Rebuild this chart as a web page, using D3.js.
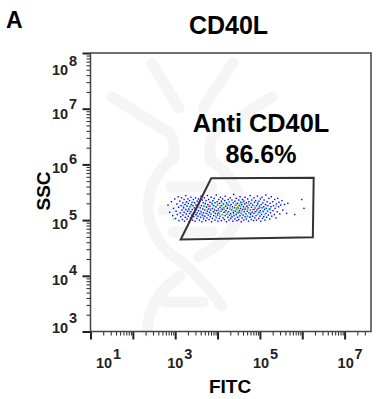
<!DOCTYPE html>
<html>
<head>
<meta charset="utf-8">
<script src="https://cdn.jsdelivr.net/npm/d3@7"></script>
<style>
  html, body { margin: 0; background: #fff; }
  svg { display: block; }
  text { font-family: "Liberation Sans", Arial, sans-serif; font-weight: bold; }
</style>
</head>
<body>
<div id="chart"></div>
<script>
// decades on each axis
const xDecades = [1, 2, 3, 4, 5, 6, 7];
const yDecades = [3, 4, 5, 6, 7, 8];
const xLabelled = [1, 3, 5, 7];
const yLabelled = [3, 4, 5, 6, 7, 8];

const panelLetter = "A";
const chartTitle = "CD40L";
const xTitle = "FITC";
const yTitle = "SSC";
const gateName = "Anti CD40L";
const gatePercent = "86.6%";

// gate corners, log10 of FITC / SSC
const gate = [[3.85, 5.75], [6.27, 5.76], [6.25, 4.69], [3.13, 4.65]];

// events, [log10 FITC, log10 SSC], by density colour
const bluePoints = [
  [2.83,5.27],[2.87,5.14],[2.91,5.33],[2.94,5.08],[2.96,5.21],[2.99,5.38],[3.01,5.03],[3.02,5.16],[3.04,5.29],[3.05,5.1],
  [3.07,5.42],[3.08,5.23],[3.09,4.99],[3.11,5.34],[3.12,5.13],[3.13,5.06],[3.14,5.26],[3.15,5.4],[3.16,5.18],[3.17,5.01],
  [3.18,5.31],[3.18,5.09],[3.2,5.22],[3.21,5.37],[3.21,5.14],[3.22,4.98],[3.23,5.28],[3.24,5.05],[3.25,5.44],[3.25,5.19],
  [3.26,5.11],[3.27,5.33],[3.28,5.02],[3.28,5.25],[3.29,5.16],[3.3,5.38],[3.31,5.07],[3.31,5.3],[3.32,5.2],[3.33,4.97],
  [3.34,5.12],[3.34,5.35],[3.35,5.24],[3.36,5.04],[3.37,5.41],[3.37,5.15],[3.38,5.28],[3.39,5.09],[3.4,5.32],[3.4,5.19],
  [3.41,5.0],[3.42,5.26],[3.43,5.12],[3.43,5.37],[3.44,5.06],[3.45,5.22],[3.46,5.31],[3.46,5.15],[3.47,4.98],[3.48,5.4],
  [3.49,5.1],[3.49,5.27],[3.5,5.19],[3.51,5.03],[3.52,5.34],[3.52,5.13],[3.53,5.24],[3.54,5.07],[3.55,5.38],[3.55,5.17],
  [3.56,5.29],[3.57,5.0],[3.58,5.11],[3.58,5.33],[3.59,5.22],[3.6,5.05],[3.61,5.43],[3.61,5.15],[3.62,5.26],[3.63,4.97],
  [3.64,5.09],[3.64,5.36],[3.65,5.2],[3.66,5.31],[3.67,5.02],[3.67,5.13],[3.68,5.25],[3.69,5.4],[3.7,5.07],[3.7,5.18],
  [3.71,5.3],[3.72,4.99],[3.73,5.12],[3.73,5.35],[3.74,5.23],[3.75,5.04],[3.76,5.16],[3.76,5.44],[3.77,5.28],[3.78,5.09],
  [3.79,5.2],[3.79,5.37],[3.8,5.01],[3.81,5.14],[3.82,5.32],[3.82,5.25],[3.83,5.06],[3.84,5.18],[3.85,5.41],[3.85,5.11],
  [3.86,4.97],[3.87,5.29],[3.88,5.21],[3.88,5.03],[3.89,5.35],[3.9,5.15],[3.91,5.26],[3.91,5.08],[3.92,5.39],[3.93,5.19],
  [3.94,5.0],[3.94,5.31],[3.95,5.12],[3.96,5.24],[3.97,5.05],[3.97,5.45],[3.98,5.17],[3.99,5.33],[4.0,5.09],[4.0,5.27],
  [4.01,4.98],[4.02,5.2],[4.03,5.37],[4.03,5.13],[4.04,5.03],[4.05,5.3],[4.06,5.23],[4.06,5.07],[4.07,5.41],[4.08,5.16],
  [4.09,4.99],[4.09,5.34],[4.1,5.26],[4.11,5.1],[4.12,5.19],[4.12,5.38],[4.13,5.04],[4.14,5.29],[4.15,5.14],[4.15,5.22],
  [4.16,5.01],[4.17,5.35],[4.18,5.08],[4.18,5.43],[4.19,5.25],[4.2,5.17],[4.21,4.97],[4.21,5.31],[4.22,5.11],[4.23,5.21],
  [4.24,5.05],[4.25,5.37],[4.25,5.27],[4.26,5.15],[4.27,5.0],[4.28,5.33],[4.28,5.09],[4.29,5.2],[4.3,5.4],[4.31,5.12],
  [4.31,5.03],[4.32,5.28],[4.33,5.18],[4.34,5.36],[4.34,5.06],[4.35,5.24],[4.36,4.98],[4.37,5.14],[4.37,5.31],[4.38,5.46],
  [4.39,5.08],[4.4,5.22],[4.41,5.02],[4.41,5.34],[4.42,5.16],[4.43,5.27],[4.44,5.1],[4.44,5.39],[4.45,5.19],[4.46,4.99],
  [4.47,5.3],[4.47,5.05],[4.48,5.23],[4.49,5.13],[4.5,5.36],[4.5,5.01],[4.51,5.26],[4.52,5.17],[4.53,5.42],[4.53,5.08],
  [4.54,5.21],[4.55,5.32],[4.56,4.97],[4.56,5.12],[4.57,5.28],[4.58,5.04],[4.59,5.37],[4.59,5.19],[4.6,5.09],[4.61,5.24],
  [4.62,5.0],[4.62,5.34],[4.63,5.15],[4.64,5.29],[4.65,5.06],[4.65,5.41],[4.66,5.2],[4.67,5.11],[4.68,5.31],[4.68,5.02],
  [4.69,5.25],[4.7,5.16],[4.71,5.38],[4.71,5.07],[4.72,5.22],[4.73,4.98],[4.74,5.33],[4.74,5.13],[4.75,5.27],[4.76,5.05],
  [4.77,5.44],[4.77,5.18],[4.78,5.1],[4.79,5.3],[4.8,5.01],[4.8,5.23],[4.81,5.36],[4.82,5.14],[4.83,5.07],[4.83,5.27],
  [4.84,5.19],[4.85,4.99],[4.86,5.4],[4.86,5.12],[4.87,5.32],[4.88,5.04],[4.89,5.22],[4.89,5.15],[4.9,5.35],[4.91,5.08],
  [4.92,5.26],[4.92,5.0],[4.93,5.18],[4.94,5.43],[4.95,5.11],[4.95,5.3],[4.96,5.21],[4.97,5.03],[4.98,5.34],[4.98,5.14],
  [4.99,5.25],[5.0,5.07],[5.01,5.38],[5.01,5.17],[5.02,4.98],[5.03,5.28],[5.04,5.1],[5.05,5.22],[5.05,5.41],[5.06,5.03],
  [5.07,5.31],[5.08,5.15],[5.09,5.24],[5.09,5.06],[5.1,5.36],[5.11,5.19],[5.12,5.0],[5.13,5.28],[5.14,5.12],[5.14,5.45],
  [5.15,5.21],[5.16,5.05],[5.17,5.33],[5.18,5.16],[5.19,5.26],[5.2,5.09],[5.21,5.39],[5.22,5.2],[5.23,5.02],[5.24,5.3],
  [5.25,5.13],[5.26,5.24],[5.27,5.42],[5.28,5.07],[5.3,5.33],[5.31,5.17],[5.32,5.26],[5.34,5.1],[5.35,5.37],[5.36,5.21],
  [5.38,5.04],[5.39,5.29],[5.41,5.15],[5.42,5.39],[5.44,5.24],[5.45,5.32],[5.47,5.11],[5.49,5.27],[5.52,5.35],[5.54,5.18],
  [5.58,5.28],[5.63,5.12],[5.66,5.3],[5.82,5.1],[5.99,5.37],[6.04,5.21]
];
const cyanPoints = [
  [3.19,5.25],[3.33,5.17],[3.42,5.32],[3.5,5.08],[3.57,5.23],[3.62,5.13],[3.71,5.28],[3.76,5.19],[3.83,5.1],[3.88,5.27],
  [3.93,5.16],[4.01,5.3],[4.05,5.11],[4.13,5.22],[4.18,5.14],[4.24,5.29],[4.3,5.1],[4.35,5.2],[4.42,5.27],[4.48,5.15],
  [4.55,5.25],[4.6,5.1],[4.66,5.22],[4.73,5.3],[4.79,5.13],[4.86,5.26],[4.92,5.15],[5.0,5.23],[5.07,5.17],[5.16,5.26],
  [3.66,5.05],[3.98,5.04],[4.27,5.33],[4.51,5.06],[4.7,5.06],[4.94,5.32],[5.11,5.1],[5.25,5.2]
];
const greenPoints = [
  [2.97,5.02],[3.25,5.31],[3.36,5.25],[3.46,5.18],[3.54,5.28],[3.6,5.16],[3.67,5.08],[3.7,5.24],[3.76,5.12],[3.82,5.21],
  [3.87,5.32],[3.91,5.13],[3.97,5.23],[4.03,5.17],[4.07,5.26],[4.12,5.1],[4.16,5.19],[4.21,5.28],[4.24,5.14],[4.29,5.23],
  [4.33,5.09],[4.37,5.17],[4.41,5.26],[4.45,5.13],[4.49,5.21],[4.53,5.29],[4.57,5.16],[4.62,5.22],[4.66,5.1],[4.71,5.19],
  [4.76,5.27],[4.82,5.15],[4.89,5.23],[4.95,5.28],[5.02,5.13],[5.13,5.21],[5.24,5.18],[5.38,5.25],
  [3.95,5.07],[4.1,5.31],[4.26,5.05],[4.44,5.3],[4.6,5.32],[4.78,5.06]
];
const yellowPoints = [
  [3.73,5.2],[3.86,5.13],[3.98,5.27],[4.05,5.15],[4.14,5.26],[4.2,5.12],[4.27,5.21],[4.34,5.16],[4.43,5.19],[4.5,5.24],
  [4.58,5.12],[4.64,5.26],[4.74,5.17],[4.85,5.24],[4.94,5.12],[4.08,5.09],[4.38,5.1]
];
const redPoints = [
  [3.78,5.25],[3.93,5.18],[4.09,5.2],[4.17,5.15],[4.23,5.23],[4.3,5.26],[4.38,5.12],[4.46,5.22],[4.52,5.14],[4.63,5.19],
  [4.78,5.12],[4.87,5.19],[4.98,5.21],[4.0,5.12],[4.7,5.25]
];

const pointSets = [
  { pts: bluePoints, color: "#0000ff" },
  { pts: cyanPoints, color: "#00d0ff" },
  { pts: greenPoints, color: "#00f040" },
  { pts: yellowPoints, color: "#f0e820" },
  { pts: redPoints, color: "#ff3020" }
];

const w = 386, h = 399;
const plotLeft = 90.5, plotRight = 371, plotTop = 53, plotBottom = 331.5;

let svg = d3.select("#chart").append("svg")
    .attr("width", w)
    .attr("height", h);

svg.append("rect").attr("width", w).attr("height", h).attr("fill", "#fff");

let xScale = d3.scaleLog().domain([1e1, 4.2e7]).range([plotLeft, plotRight]);
let yScale = d3.scaleLog().domain([1e3, 1e8]).range([plotBottom, plotTop]);

// faint watermark behind the plot
let mark = svg.append("g")
    .attr("fill", "none")
    .attr("stroke", "#f5f5f5")
    .attr("stroke-width", 11)
    .attr("stroke-linecap", "round")
    .attr("stroke-linejoin", "round");
[
  "M112,97 L168,132 Q174,137 174,145 L174,158 Q150,175 148,205 Q148,235 172,255 Q195,270 222,306",
  "M152,64 L179,108",
  "M233,63 L203,108",
  "M272,97 L216,132 Q210,137 210,145 L210,160 Q240,180 240,207 Q238,235 199,257",
  "M180,276 Q150,295 147,331",
  "M165,302 L203,302",
  "M171,187 L212,187",
  "M163,210 L200,210",
  "M173,232 L212,232"
].forEach(d => mark.append("path").attr("d", d));

// minor ticks first so the majors sit on top
let xMinor = [];
xDecades.forEach(e => [2, 3, 4, 5, 6, 7, 8, 9].forEach(m => {
  if (m * 10 ** e <= 3e7) xMinor.push(m * 10 ** e);
}));
let yMinor = [];
yDecades.slice(0, -1).forEach(e => [2, 3, 4, 5, 6, 7, 8, 9].forEach(m => yMinor.push(m * 10 ** e)));

let xAxisMinor = d3.axisBottom(xScale).tickValues(xMinor).tickSize(4).tickFormat("");
let xAxisMajor = d3.axisBottom(xScale).tickValues(xDecades.map(e => 10 ** e)).tickSize(8).tickFormat("");
let yAxisMinor = d3.axisLeft(yScale).tickValues(yMinor).tickSize(4).tickFormat("");
let yAxisMajor = d3.axisLeft(yScale).tickValues(yDecades.map(e => 10 ** e)).tickSize(8).tickFormat("");

[[xAxisMinor, 1], [xAxisMajor, 2]].forEach(([a, sw]) => {
  let g = svg.append("g").attr("transform", "translate(0," + plotBottom + ")").call(a);
  g.select(".domain").remove();
  g.selectAll("line").attr("stroke", "#222").attr("stroke-width", sw);
});
[[yAxisMinor, 1], [yAxisMajor, 2]].forEach(([a, sw]) => {
  let g = svg.append("g").attr("transform", "translate(" + plotLeft + ",0)").call(a);
  g.select(".domain").remove();
  g.selectAll("line").attr("stroke", "#222").attr("stroke-width", sw);
});

// events, slightly soft like the original
let defs = svg.append("defs");
defs.append("filter").attr("id", "soft")
    .append("feGaussianBlur").attr("stdDeviation", 0.25);

let dots = svg.append("g").attr("filter", "url(#soft)");
pointSets.forEach(s => {
  dots.selectAll(null)
      .data(s.pts)
      .enter()
      .append("rect")
      .attr("x", d => xScale(10 ** d[0]) - 0.7)
      .attr("y", d => yScale(10 ** d[1]) - 0.7)
      .attr("width", 1.4)
      .attr("height", 1.4)
      .attr("fill", s.color);
});

// frame
svg.append("rect")
    .attr("x", plotLeft).attr("y", plotTop)
    .attr("width", plotRight - plotLeft).attr("height", plotBottom - plotTop)
    .attr("fill", "none")
    .attr("stroke", "#444")
    .attr("stroke-width", 1.5);

// gate
svg.append("path")
    .attr("d", d3.line().x(d => xScale(10 ** d[0])).y(d => yScale(10 ** d[1])).curve(d3.curveLinearClosed)(gate))
    .attr("fill", "none")
    .attr("stroke", "#333")
    .attr("stroke-width", 2);

// power-of-ten labels, hand placed in the original so nudged per axis
function powerLabel(x, y, e) {
  let t = svg.append("g");
  t.append("text").attr("x", x).attr("y", y).attr("font-size", 14.5).attr("fill", "#222").text("10");
  t.append("text").attr("x", x + 17).attr("y", y - 9.5).attr("font-size", 14.5).attr("fill", "#222").text(e);
}
const yNudge = { 8: 22, 7: 10, 6: 9, 5: 9, 4: 9, 3: 1 };
const xNudge = { 1: 5.5, 3: -8, 5: -7, 7: -7 };
xLabelled.forEach(e => powerLabel(xScale(10 ** e) + xNudge[e], 368, e));
yLabelled.forEach(e => powerLabel(52, yScale(10 ** e) + yNudge[e], e));

// titles
function label(x, y, size, str, anchor) {
  return svg.append("text").attr("x", x).attr("y", y).attr("font-size", size)
      .attr("text-anchor", anchor || "middle").attr("fill", "#000").text(str);
}
label(6, 28, 23, panelLetter, "start");
label(228.5, 34, 25, chartTitle);
label(230, 393, 19, xTitle);
label(261, 132, 25.3, gateName);
label(261, 163, 25, gatePercent);
svg.append("text")
    .attr("transform", "translate(50,191) rotate(-90)")
    .attr("font-size", 19)
    .attr("text-anchor", "middle")
    .attr("fill", "#000")
    .text(yTitle);
</script>
</body>
</html>
